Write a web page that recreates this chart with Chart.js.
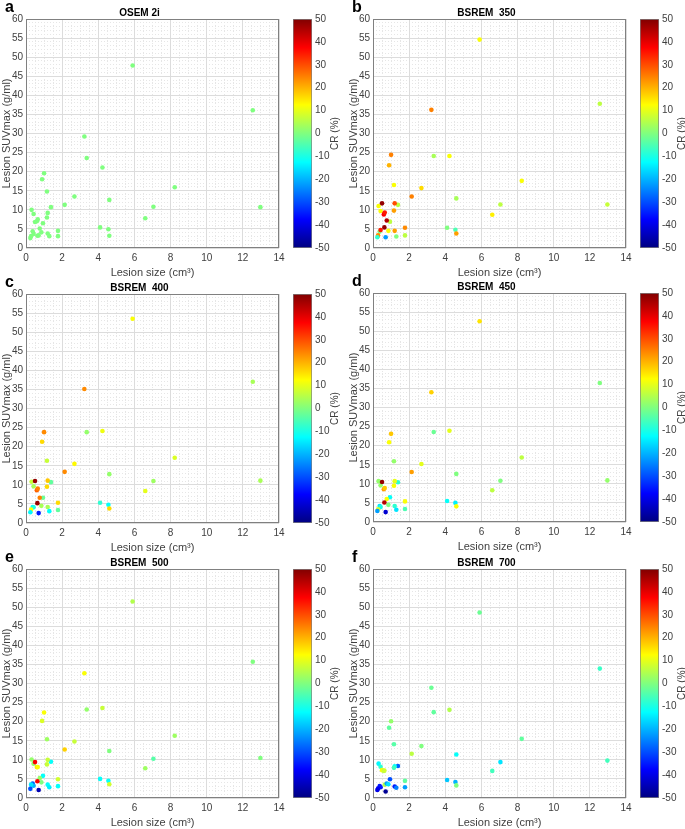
<!DOCTYPE html>
<html>
<head>
<meta charset="utf-8">
<script src="https://cdn.jsdelivr.net/npm/chart.js@4.4.1/dist/chart.umd.min.js"></script>
<style>
body { margin: 0; background: #fff; }
#fig { position: relative; width: 685px; height: 829px; overflow: hidden; }
#fig canvas { position: absolute; }
.letter { position: absolute; font: bold 16px/16px "Liberation Sans", Arial, sans-serif; color: #000; }
</style>
</head>
<body>
<div id="fig"></div>
<script>
// lesion sizes (cm3), same lesions in every panel
const lesionSize = [5.90, 12.55, 3.23, 3.36, 4.23, 1.00, 0.89, 8.23, 1.16, 2.68, 4.61, 2.14, 1.38, 7.05, 12.97, 0.31, 1.20, 0.42, 1.16, 6.60,
                    0.50, 0.60, 0.65, 0.94, 0.76, 4.10, 4.56, 0.37, 0.85, 1.77, 0.42, 1.20, 0.70, 0.63, 0.28, 0.24, 1.29, 1.77, 4.61];

// SUVmax (g/ml) per reconstruction
const suvOsem = [47.8, 36.1, 29.2, 23.6, 21.1, 19.6, 18.0, 15.9, 14.8, 13.5, 12.6, 11.3, 10.7, 10.8, 10.7, 10.0, 9.2, 8.9, 8.0, 7.8,
                 6.8, 7.0, 7.5, 6.5, 5.1, 5.4, 4.9, 4.4, 4.1, 4.5, 3.7, 3.8, 3.3, 3.2, 3.1, 2.6, 3.1, 3.1, 3.2];
const suv350 = [54.6, 37.8, 36.2, 24.1, 24.1, 24.4, 21.7, 17.6, 16.5, 15.7, 13.0, 13.5, 11.3, 11.4, 11.4, 11.0, 11.7, 9.7, 9.8, 8.7,
                11.7, 8.8, 9.3, 6.9, 7.2, 5.3, 4.8, 4.3, 4.5, 5.3, 4.7, 4.5, 2.8, 5.4, 3.3, 2.8, 3.0, 3.3, 3.8];
const suv400 = [53.5, 37.0, 35.1, 23.8, 24.1, 23.8, 21.3, 17.1, 16.3, 15.5, 12.8, 13.4, 10.7, 11.0, 11.1, 10.8, 11.1, 9.6, 9.5, 8.4,
                11.0, 8.6, 9.0, 6.6, 6.6, 5.3, 4.8, 4.2, 4.5, 5.3, 4.1, 4.2, 2.6, 5.2, 3.5, 2.8, 3.1, 3.4, 3.8];
const suv450 = [52.6, 36.4, 34.0, 23.6, 23.9, 23.1, 20.9, 16.9, 15.9, 15.2, 12.6, 13.1, 10.4, 10.8, 10.9, 10.7, 10.7, 9.6, 9.5, 8.3,
                10.5, 8.6, 8.9, 6.5, 6.0, 5.5, 5.0, 4.2, 4.5, 5.4, 3.9, 4.2, 2.6, 5.1, 3.3, 2.9, 3.2, 3.4, 4.1];
const suv500 = [51.5, 35.7, 32.7, 23.2, 23.6, 22.4, 20.2, 16.3, 15.4, 14.8, 12.3, 12.7, 9.5, 10.3, 10.5, 10.1, 10.0, 9.0, 8.8, 7.8,
                9.4, 8.1, 8.1, 5.8, 5.2, 5.0, 4.5, 3.8, 4.1, 4.9, 3.2, 3.5, 2.1, 4.4, 3.5, 2.4, 2.8, 3.1, 3.6];
const suv700 = [48.6, 33.9, 28.9, 22.5, 23.1, 20.1, 18.4, 15.5, 14.1, 13.6, 11.4, 11.6, 8.4, 9.4, 9.8, 9.0, 8.3, 8.2, 7.9, 7.1,
                7.3, 7.1, 3.5, 4.9, 3.8, 4.7, 4.2, 3.1, 3.6, 4.5, 2.8, 3.0, 1.7, 7.2, 2.5, 2.1, 2.7, 2.8, 3.3];

// CR (%) per reconstruction
const crOsem = lesionSize.map(() => 0);
const cr350 = [12, 6, 25, 4, 12, 25, 20, 12, 12, 16, 4, 25, 6, 6, 7, 12, 30, 12, 22, 14,
               48, 38, 35, 6, 45, 0, -5, 0, 12, 24, 35, 22, -22, 48, 24, -8, 0, 6, 22];
const cr400 = [12, 4, 24, 2, 11, 24, 16, 9, 7, 13, 2, 24, -3, 3, 4, 7, 18, 4, 16, 10,
               48, 28, 25, -2, 25, -8, -12, -12, 4, 16, -10, 4, -35, 48, 12, -13, -12, -3, 16];
const cr450 = [15, 0, 17, -2, 10, 18, 12, 6, 2, 10, 0, 22, -8, 0, 2, 2, 10, 2, 12, 6,
               48, 22, 18, -12, 12, -12, -14, -15, 0, 12, -10, -8, -42, 45, 8, -22, -15, -5, 12];
const cr500 = [5, 0, 12, 2, 7, 12, 9, 3, 3, 7, 0, 17, -12, -4, 0, 2, 7, 2, 7, 3,
               38, 15, 12, -12, 2, -12, -12, -28, 0, 8, -20, -12, -45, 38, -15, -30, -14, -12, 8];
const cr700 = [-2, -7, -2, -3, 5, 2, -3, -3, -4, 0, -12, 6, -28, -15, -6, -13, -12, -8, -6, -6,
               12, 5, 5, -30, -22, -18, -20, -35, -15, -3, -35, -35, -48, 8, -38, -40, -25, -22, 0];

const titles = ['OSEM 2i', 'BSREM  350', 'BSREM  400', 'BSREM  450', 'BSREM  500', 'BSREM  700'];
const letters = ['a', 'b', 'c', 'd', 'e', 'f'];
const xRange = [0, 14], xStep = 2, xMinorStep = 0.5;
const yRange = [0, 60], yStep = 5, yMinorStep = 1;
const crRange = [-50, 50], crStep = 10;

Chart.defaults.font.family = '"Liberation Sans", Arial, sans-serif';

const jetStops = [[0, [0, 0, 128]], [0.125, [0, 0, 255]], [0.375, [0, 255, 255]],
                  [0.625, [255, 255, 0]], [0.875, [255, 0, 0]], [1, [128, 0, 0]]];

function jet(t) {
    t = Math.min(1, Math.max(0, t));
    for (let i = 1; i < jetStops.length; i++) {
        const [t1, c1] = jetStops[i];
        if (t <= t1) {
            const [t0, c0] = jetStops[i - 1];
            const f = (t - t0) / (t1 - t0);
            const c = c0.map((v, k) => Math.round(v + (c1[k] - v) * f));
            return `rgb(${c[0]},${c[1]},${c[2]})`;
        }
    }
    return 'rgb(128,0,0)';
}

function crColor(v) {
    return jet((v - crRange[0]) / (crRange[1] - crRange[0]));
}

const fig = document.getElementById('fig');

function addCanvas(left, top, w, h) {
    const c = document.createElement('canvas');
    c.width = w; c.height = h;
    c.style.left = left + 'px'; c.style.top = top + 'px';
    c.style.width = w + 'px'; c.style.height = h + 'px';
    fig.appendChild(c);
    return c;
}

// box round the axes, like matlab "box on"
const axesBox = {
    id: 'axesBox',
    afterDatasetsDraw(chart) {
        const a = chart.chartArea, ctx = chart.ctx;
        ctx.save();
        ctx.strokeStyle = '#808080';
        ctx.lineWidth = 1;
        ctx.strokeRect(a.left + 0.5, a.top + 0.5, a.right - a.left - 1, a.bottom - a.top - 1);
        ctx.restore();
    }
};

const cbLabel = {
    id: 'cbLabel',
    afterDraw(chart) {
        const a = chart.chartArea, ctx = chart.ctx;
        ctx.save();
        ctx.translate(42, (a.top + a.bottom) / 2);
        ctx.rotate(-Math.PI / 2);
        ctx.textAlign = 'center';
        ctx.textBaseline = 'middle';
        ctx.font = '10px "Liberation Sans", Arial, sans-serif';
        ctx.fillStyle = '#404040';
        ctx.fillText('CR (%)', 0, 0);
        ctx.restore();
    }
};

function scatterPanel(i, plotLeft, plotTop, suv, cr) {
    const canvas = addCanvas(plotLeft - 26, plotTop - 19, 26 + 253 + 14, 280);
    new Chart(canvas.getContext('2d'), {
        type: 'scatter',
        data: {
            datasets: [{
                data: lesionSize.map((x, k) => ({x: x, y: suv[k]})),
                pointBackgroundColor: cr.map(crColor),
                pointBorderWidth: 0,
                pointRadius: 2.3
            }]
        },
        options: {
            responsive: false,
            animation: false,
            events: [],
            layout: {padding: {left: 0, right: 14, top: 0, bottom: 0}},
            plugins: {
                legend: {display: false},
                tooltip: {enabled: false},
                title: {
                    display: true, text: titles[i], color: '#000',
                    font: {size: 10, weight: 'bold'}, padding: {top: 7, bottom: 0}
                }
            },
            scales: {
                xm: {
                    type: 'linear', position: 'bottom', min: xRange[0], max: xRange[1],
                    afterFit: s => { s.height = 0; },
                    ticks: {display: false, stepSize: xMinorStep},
                    grid: {color: '#e6e6e6', drawTicks: false, z: -1},
                    border: {display: false, dash: [1, 2]}
                },
                ym: {
                    type: 'linear', position: 'left', min: yRange[0], max: yRange[1],
                    afterFit: s => { s.width = 0; },
                    ticks: {display: false, stepSize: yMinorStep},
                    grid: {color: '#e6e6e6', drawTicks: false, z: -1},
                    border: {display: false, dash: [1, 2]}
                },
                x: {
                    type: 'linear', position: 'bottom', min: xRange[0], max: xRange[1],
                    afterFit: s => { s.height = 32; },
                    ticks: {stepSize: xStep, color: '#404040', font: {size: 10}, padding: 4, maxRotation: 0},
                    grid: {color: '#dcdcdc', drawTicks: false},
                    border: {display: false},
                    title: {display: true, text: 'Lesion size (cm³)', color: '#404040', font: {size: 11}, padding: {top: 0, bottom: 0}}
                },
                y: {
                    type: 'linear', position: 'left', min: yRange[0], max: yRange[1],
                    afterFit: s => { s.width = 26; },
                    ticks: {stepSize: yStep, color: '#404040', font: {size: 10}, padding: 3},
                    grid: {color: '#dcdcdc', drawTicks: false},
                    border: {display: false},
                    title: {display: true, text: 'Lesion SUVmax (g/ml)', color: '#404040', font: {size: 11}, padding: {top: 0, bottom: 0}}
                }
            }
        },
        plugins: [axesBox]
    });
}

function colorbarPanel(plotLeft, plotTop) {
    const canvas = addCanvas(plotLeft + 267, plotTop - 19, 52, 280);
    new Chart(canvas.getContext('2d'), {
        type: 'bar',
        data: {
            labels: ['CR'],
            datasets: [{
                data: [crRange],
                backgroundColor: c => {
                    const a = c.chart.chartArea;
                    if (!a) return 'transparent';
                    const g = c.chart.ctx.createLinearGradient(0, a.bottom, 0, a.top);
                    jetStops.forEach(([t, rgb]) => g.addColorStop(t, `rgb(${rgb})`));
                    return g;
                },
                borderColor: '#808080',
                borderWidth: 1,
                borderSkipped: false,
                barPercentage: 1,
                categoryPercentage: 1
            }]
        },
        options: {
            responsive: false,
            animation: false,
            events: [],
            layout: {padding: {left: 0, right: 0, top: 19, bottom: 32}},
            plugins: {legend: {display: false}, tooltip: {enabled: false}},
            scales: {
                x: {display: false},
                y: {
                    position: 'right', min: crRange[0], max: crRange[1],
                    afterFit: s => { s.width = 33; },
                    ticks: {stepSize: crStep, color: '#404040', font: {size: 10}, padding: 3},
                    grid: {display: false, drawTicks: false},
                    border: {display: false}
                }
            }
        },
        plugins: [cbLabel]
    });
}

const panelPos = [[26, 19], [373, 19], [26, 294], [373, 293], [26, 569], [373, 569]];
const suvSets = [suvOsem, suv350, suv400, suv450, suv500, suv700];
const crSets = [crOsem, cr350, cr400, cr450, cr500, cr700];

panelPos.forEach(([l, t], i) => {
    scatterPanel(i, l, t, suvSets[i], crSets[i]);
    colorbarPanel(l, t);
    const d = document.createElement('div');
    d.className = 'letter';
    d.textContent = letters[i];
    d.style.left = (l - 21) + 'px';
    d.style.top = (t - 7 - 13.5) + 'px';
    fig.appendChild(d);
});
</script>
</body>
</html>
